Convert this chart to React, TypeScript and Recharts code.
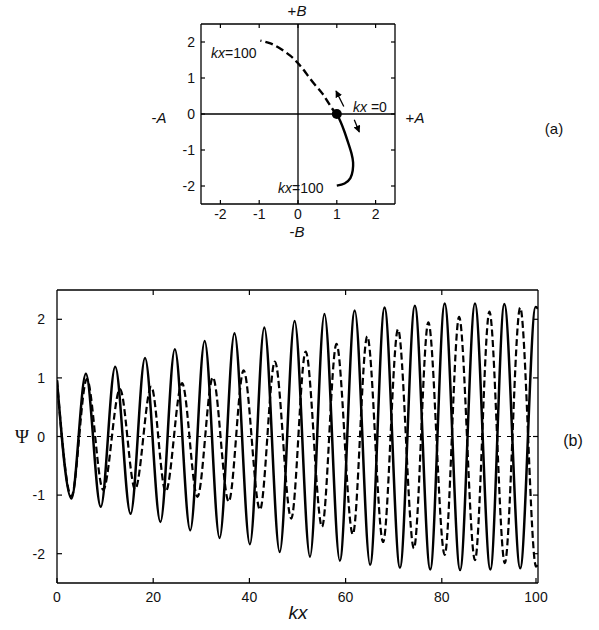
import { LineChart, Line, XAxis, YAxis, ReferenceLine, ReferenceDot } from 'recharts'

// panel (a): phase path in the A-B plane
const abTicks = [-2, -1, 0, 1, 2]
const dashedPath = [
  { a: 1.0, b: 0.0 },
  { a: 0.96, b: 0.03 },
  { a: 0.79, b: 0.3 },
  { a: 0.62, b: 0.58 },
  { a: 0.4, b: 0.86 },
  { a: 0.19, b: 1.16 },
  { a: 0.0, b: 1.41 },
  { a: -0.2, b: 1.62 },
  { a: -0.46, b: 1.82 },
  { a: -0.71, b: 1.96 },
  { a: -0.97, b: 2.04 },
]
const solidPath = [
  { a: 1.0, b: 0.0 },
  { a: 1.1, b: -0.22 },
  { a: 1.2, b: -0.5 },
  { a: 1.3, b: -0.82 },
  { a: 1.38, b: -1.1 },
  { a: 1.42, b: -1.35 },
  { a: 1.41, b: -1.57 },
  { a: 1.35, b: -1.78 },
  { a: 1.2, b: -1.93 },
  { a: 1.0, b: -1.99 },
]
const startPoint = { a: 1, b: 0 }
const arrowUp = [
  { a: 1.18, b: 0.21 },
  { a: 0.98, b: 0.64 },
]
const arrowDown = [
  { a: 1.45, b: -0.16 },
  { a: 1.58, b: -0.5 },
]

// panel (b): Psi against kx, read at the extrema
const kxTicks = [0, 20, 40, 60, 80, 100]
const kxTopTicks = [20, 40, 60, 80]
const psiTicks = [-2, -1, 0, 1, 2]
const solidWave = [
  { kx: 0, psi: 0.96 },
  { kx: 3.0, psi: -1.06 },
  { kx: 6.0, psi: 1.07 },
  { kx: 9.1, psi: -1.2 },
  { kx: 12.1, psi: 1.19 },
  { kx: 15.3, psi: -1.32 },
  { kx: 18.3, psi: 1.34 },
  { kx: 21.5, psi: -1.46 },
  { kx: 24.5, psi: 1.49 },
  { kx: 27.7, psi: -1.6 },
  { kx: 30.7, psi: 1.63 },
  { kx: 33.8, psi: -1.73 },
  { kx: 36.9, psi: 1.76 },
  { kx: 40.1, psi: -1.84 },
  { kx: 43.1, psi: 1.86 },
  { kx: 46.3, psi: -1.97 },
  { kx: 49.4, psi: 1.97 },
  { kx: 52.6, psi: -2.05 },
  { kx: 55.6, psi: 2.09 },
  { kx: 58.8, psi: -2.12 },
  { kx: 61.9, psi: 2.15 },
  { kx: 65.1, psi: -2.19 },
  { kx: 68.1, psi: 2.2 },
  { kx: 71.3, psi: -2.24 },
  { kx: 74.4, psi: 2.23 },
  { kx: 77.6, psi: -2.27 },
  { kx: 80.6, psi: 2.27 },
  { kx: 83.8, psi: -2.28 },
  { kx: 86.9, psi: 2.27 },
  { kx: 90.1, psi: -2.27 },
  { kx: 93.0, psi: 2.26 },
  { kx: 96.3, psi: -2.25 },
  { kx: 99.5, psi: 2.21 },
  { kx: 100, psi: 2.18 },
]
const dashedWave = [
  { kx: 0, psi: 0.96 },
  { kx: 3.0, psi: -1.02 },
  { kx: 6.2, psi: 0.98 },
  { kx: 9.6, psi: -0.91 },
  { kx: 13.1, psi: 0.81 },
  { kx: 16.25, psi: -0.9 },
  { kx: 19.6, psi: 0.85 },
  { kx: 22.6, psi: -0.94 },
  { kx: 26.0, psi: 0.91 },
  { kx: 29.2, psi: -1.03 },
  { kx: 32.4, psi: 1.01 },
  { kx: 35.7, psi: -1.11 },
  { kx: 38.8, psi: 1.13 },
  { kx: 42.2, psi: -1.25 },
  { kx: 45.3, psi: 1.28 },
  { kx: 48.7, psi: -1.4 },
  { kx: 51.7, psi: 1.45 },
  { kx: 55.1, psi: -1.54 },
  { kx: 58.1, psi: 1.58 },
  { kx: 61.5, psi: -1.67 },
  { kx: 64.5, psi: 1.71 },
  { kx: 67.8, psi: -1.8 },
  { kx: 70.9, psi: 1.83 },
  { kx: 74.2, psi: -1.91 },
  { kx: 77.2, psi: 1.95 },
  { kx: 80.6, psi: -2.02 },
  { kx: 83.6, psi: 2.04 },
  { kx: 86.9, psi: -2.11 },
  { kx: 89.9, psi: 2.13 },
  { kx: 93.1, psi: -2.16 },
  { kx: 96.3, psi: 2.2 },
  { kx: 99.6, psi: -2.22 },
  { kx: 100, psi: -2.19 },
]

const SANS = '"Liberation Sans", Arial, sans-serif'
const INK = '#111'

// ticks point into the plot, labels sit outside
const tick =
  (side: 'bottom' | 'top' | 'left' | 'right', len: number, gap: number, size: number, label = true) =>
  (p: any) => {
    const { x, y, payload } = p
    const v = String(payload.value)
    if (side === 'bottom')
      return (
        <g>
          <line x1={x} y1={y} x2={x} y2={y - len} stroke="#000" strokeWidth={1.2} />
          {label && (
            <text x={x} y={y + gap} textAnchor="middle" dominantBaseline="central" fontSize={size} fontFamily={SANS} fill={INK}>
              {v}
            </text>
          )}
        </g>
      )
    if (side === 'top') return <line x1={x} y1={y} x2={x} y2={y + len} stroke="#000" strokeWidth={1.2} />
    if (side === 'right') return <line x1={x} y1={y} x2={x - len} y2={y} stroke="#000" strokeWidth={1.2} />
    return (
      <g>
        <line x1={x} y1={y} x2={x + len} y2={y} stroke="#000" strokeWidth={1.2} />
        {label && (
          <text x={x - gap} y={y} textAnchor="end" dominantBaseline="central" fontSize={size} fontFamily={SANS} fill={INK}>
            {v}
          </text>
        )}
      </g>
    )
  }

const axisLine = { stroke: '#000', strokeWidth: 1.3 }

function Txt({ x, y, children, size = 14, anchor = 'middle', style = {} }: any) {
  const tx = anchor === 'middle' ? '-50%' : anchor === 'end' ? '-100%' : '0'
  return (
    <div
      style={{
        position: 'absolute',
        left: x,
        top: y,
        transform: `translate(${tx}, -50%)`,
        fontFamily: SANS,
        fontSize: size,
        color: INK,
        whiteSpace: 'nowrap',
        lineHeight: 1,
        ...style,
      }}
    >
      {children}
    </div>
  )
}

const Kx = () => <i>kx</i>

export default function App() {
  return (
    <div style={{ position: 'absolute', left: 0, top: 0, width: 599, height: 630, background: '#fff', overflow: 'hidden' }}>
      <svg width={0} height={0} style={{ position: 'absolute' }}>
        <defs>
          <marker id="arrowhead" viewBox="0 0 10 10" refX="9" refY="5" markerWidth="7" markerHeight="7" markerUnits="userSpaceOnUse" orient="auto">
            <path d="M0,0 L10,5 L0,10 z" fill="#000" />
          </marker>
        </defs>
      </svg>

      {/* (a) */}
      <div style={{ position: 'absolute', left: 160, top: 13 }}>
        <LineChart width={245} height={217} margin={{ top: 10, right: 9, left: 0, bottom: 0 }}>
          <XAxis dataKey="a" type="number" domain={[-2.5, 2.5]} ticks={abTicks} allowDataOverflow height={26} tickSize={0} tickMargin={0} axisLine={axisLine} tick={tick('bottom', 4, 10, 14)} />
          <XAxis xAxisId="top" orientation="top" dataKey="a" type="number" domain={[-2.5, 2.5]} ticks={abTicks} allowDataOverflow height={1} tickSize={0} tickMargin={0} axisLine={axisLine} tick={tick('top', 4, 0, 14, false)} />
          <YAxis dataKey="b" type="number" domain={[-2.5, 2.5]} ticks={abTicks} allowDataOverflow width={41} tickSize={0} tickMargin={0} axisLine={axisLine} tick={tick('left', 4, 6, 14)} />
          <YAxis yAxisId="right" orientation="right" type="number" domain={[-2.5, 2.5]} ticks={abTicks} allowDataOverflow width={1} tickSize={0} tickMargin={0} axisLine={axisLine} tick={tick('right', 4, 0, 14, false)} />
          <ReferenceLine x={0} stroke="#000" strokeWidth={1.3} />
          <ReferenceLine y={0} stroke="#000" strokeWidth={1.3} />
          <Line data={dashedPath} dataKey="b" type="natural" stroke="#000" strokeWidth={2.4} strokeDasharray="8 4" dot={false} isAnimationActive={false} />
          <Line data={solidPath} dataKey="b" type="natural" stroke="#000" strokeWidth={2.4} dot={false} isAnimationActive={false} />
          <Line data={arrowUp} dataKey="b" type="linear" stroke="#000" strokeWidth={1.3} dot={false} isAnimationActive={false} markerEnd="url(#arrowhead)" />
          <Line data={arrowDown} dataKey="b" type="linear" stroke="#000" strokeWidth={1.3} dot={false} isAnimationActive={false} markerEnd="url(#arrowhead)" />
          <ReferenceDot x={startPoint.a} y={startPoint.b} r={5} fill="#000" stroke="none" />
        </LineChart>
      </div>

      {/* (b) */}
      <div style={{ position: 'absolute', left: 0, top: 279 }}>
        <LineChart width={548} height={341} margin={{ top: 10, right: 9, left: 0, bottom: 0 }}>
          <XAxis dataKey="kx" type="number" domain={[0, 100]} ticks={kxTicks} allowDataOverflow height={37} tickSize={0} tickMargin={0} axisLine={axisLine} tick={tick('bottom', 5, 14, 14)} />
          <XAxis xAxisId="top" orientation="top" dataKey="kx" type="number" domain={[0, 100]} ticks={kxTopTicks} allowDataOverflow height={1} tickSize={0} tickMargin={0} axisLine={axisLine} tick={tick('top', 5, 0, 14, false)} />
          <YAxis type="number" domain={[-2.5, 2.5]} ticks={psiTicks} allowDataOverflow width={57} tickSize={0} tickMargin={0} axisLine={axisLine} tick={tick('left', 5, 12, 14)} />
          <YAxis yAxisId="right" orientation="right" type="number" domain={[-2.5, 2.5]} ticks={psiTicks} allowDataOverflow width={1} tickSize={0} tickMargin={0} axisLine={axisLine} tick={tick('right', 5, 0, 14, false)} />
          <ReferenceLine y={0} stroke="#000" strokeWidth={1} strokeDasharray="4 6" />
          <Line data={dashedWave} dataKey="psi" type="monotone" stroke="#000" strokeWidth={2.2} strokeDasharray="7 3.5" dot={false} isAnimationActive={false} />
          <Line data={solidWave} dataKey="psi" type="monotone" stroke="#000" strokeWidth={2.5} dot={false} isAnimationActive={false} />
        </LineChart>
      </div>

      <Txt x={297} y={10} size={15}>+<i>B</i></Txt>
      <Txt x={297} y={231} size={15}>-<i>B</i></Txt>
      <Txt x={159} y={117} size={15}>-<i>A</i></Txt>
      <Txt x={415} y={117} size={15}>+<i>A</i></Txt>
      <Txt x={554} y={128} size={15}>(a)</Txt>
      <Txt x={211} y={53} anchor="start"><Kx />=100</Txt>
      <Txt x={353} y={107} anchor="start"><Kx /> =0</Txt>
      <Txt x={278} y={188} anchor="start"><Kx />=100</Txt>

      <Txt x={22} y={436} size={19} style={{ fontFamily: '"Liberation Serif", serif' }}>Ψ</Txt>
      <Txt x={573} y={441} size={16}>(b)</Txt>
      <Txt x={298} y={612} size={19}><Kx /></Txt>
    </div>
  )
}
